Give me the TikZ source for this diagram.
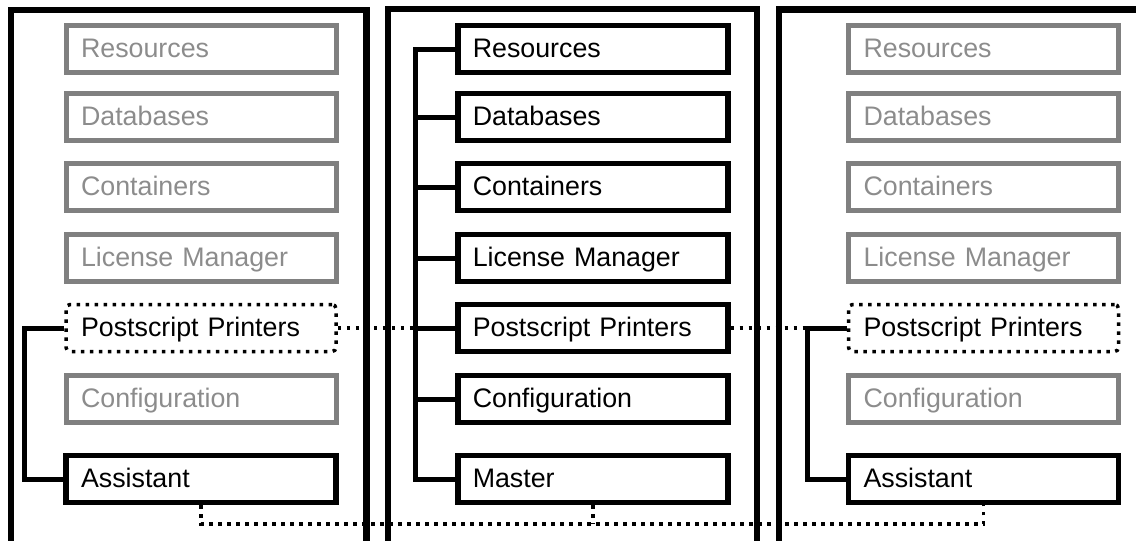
\documentclass[tikz,border=0pt]{standalone}
\usepackage{fontspec}
\setmainfont{Liberation Sans}
\definecolor{boxgray}{RGB}{128,128,128}
\definecolor{textgray}{RGB}{140,140,140}
\begin{document}
\begin{tikzpicture}[x=1pt,y=-1pt,
    panel/.style={line width=6.5pt},
    item/.style={draw, line width=5.5pt, minimum height=47pt, text width=240pt,
      inner xsep=15pt, inner ysep=0pt, align=left, text height=19.3pt, text depth=2.7pt,
      font=\fontsize{26.8}{30}\selectfont},
    faded/.style={item, draw=boxgray, text=textgray, line width=5pt},
    shared/.style={item, dash pattern=on 3.5pt off 5.5pt, line width=3.5pt, rounded corners=4pt},
    tree/.style={line width=5pt},
    link/.style={line width=3.5pt, dash pattern=on 3.5pt off 5.5pt}]
      \useasboundingbox (0,0) rectangle (1136,541);
      % the three panels
      \draw[panel] (11,600) |- (366.5,10) -- (366.5,600);
      \draw[panel] (388,600) |- (757,9) -- (757,600);
      \draw[panel] (779,600) |- (1160,9.5) -- (1160,600);
      \draw
        (201,49) node[faded] (l1){Resources}
        (201,117) node[faded] (l2){Databases}
        (201,187) node[faded] (l3){Containers}
        (201,258) node[faded] (l4){License Manager}
        (201,328) node[shared] (l5){Postscript Printers}
        (201,399) node[faded] (l6){Configuration}
        (201,479) node[item] (l7){Assistant};
      \draw
        (592.75,49) node[item] (m1){Resources}
        (592.75,117) node[item] (m2){Databases}
        (592.75,187) node[item] (m3){Containers}
        (592.75,258) node[item] (m4){License Manager}
        (592.75,328) node[item] (m5){Postscript Printers}
        (592.75,399) node[item] (m6){Configuration}
        (592.75,479) node[item] (m7){Master};
      \draw
        (983.5,49) node[faded] (r1){Resources}
        (983.5,117) node[faded] (r2){Databases}
        (983.5,187) node[faded] (r3){Containers}
        (983.5,258) node[faded] (r4){License Manager}
        (983.5,328) node[shared] (r5){Postscript Printers}
        (983.5,399) node[faded] (r6){Configuration}
        (983.5,479) node[item] (r7){Assistant};
      \coordinate (bus) at (0,524);
      \begin{scope}[tree]
        \draw (m1.west) -- ++(-40,0) coordinate (mtop) |- (m7.west);
        \draw (m2.west) to (m2.west -| mtop);
        \draw (m3.west) to (m3.west -| mtop);
        \draw (m4.west) to (m4.west -| mtop);
        \draw (m5.west) to (m5.west -| mtop);
        \draw (m6.west) to (m6.west -| mtop);
        \draw (l5.west) -- ++(-40,0) coordinate (lcorner) |- (l7.west);
        \draw (r5.west) -- ++(-39,0) coordinate (rcorner) |- (r7.west);
      \end{scope}
      \begin{scope}[link]
        \draw (l5.east) to (l5.east -| mtop);
        \draw (m5.east) to (rcorner);
        \draw (l7.south) |- (r7.south |- bus) -- (r7.south);
        \draw (m7.south) to (m7.south |- bus);
      \end{scope}
    \end{tikzpicture}
\end{document}
